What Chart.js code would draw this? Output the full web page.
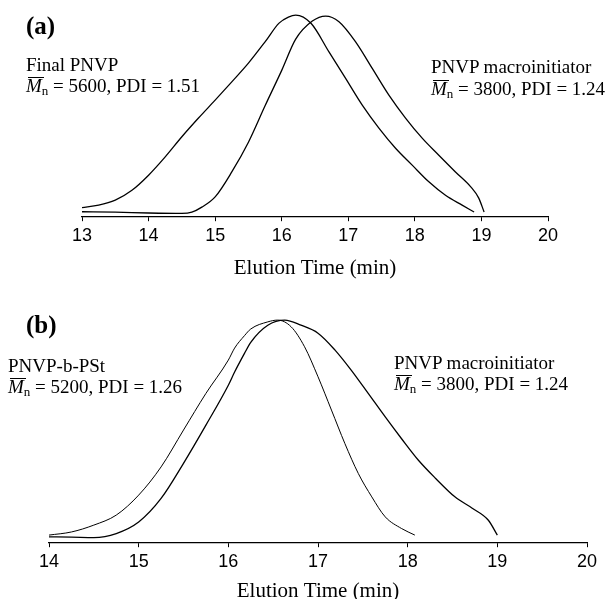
<!DOCTYPE html>
<html>
<head>
<meta charset="utf-8">
<script src="https://cdn.jsdelivr.net/npm/chart.js@4.4.0/dist/chart.umd.min.js"></script>
<style>
body { margin: 0; background: #fff; width: 610px; height: 599px; overflow: hidden; position: relative; font-family: "Liberation Serif", "Times New Roman", serif; color: #000; }
.panel { position: absolute; left: 0; }
.lbl { position: absolute; font-size: 19px; line-height: 19px; white-space: nowrap; }
.tag { position: absolute; font-size: 25px; line-height: 25px; font-weight: bold; }
.m { font-style: italic; position: relative; }
.m::before { content: ''; position: absolute; left: 2px; right: -2px; top: 2px; border-top: 1.3px solid #000; }
.lbl sub { font-size: 13px; line-height: 0; vertical-align: -3px; }
</style>
</head>
<body>
<div class="panel" style="top:0"><canvas id="chartA" width="610" height="290"></canvas></div>
<div class="panel" style="top:300px"><canvas id="chartB" width="610" height="310"></canvas></div>

<div class="tag" style="left:26px;top:13px">(a)</div>
<div class="lbl" style="left:26px;top:55px">Final PNVP</div>
<div class="lbl" style="left:26px;top:76px"><span class="m">M</span><sub>n</sub> = 5600, PDI = 1.51</div>
<div class="lbl" style="left:431px;top:57px">PNVP macroinitiator</div>
<div class="lbl" style="left:431px;top:79px"><span class="m">M</span><sub>n</sub> = 3800, PDI = 1.24</div>

<div class="tag" style="left:26px;top:312px">(b)</div>
<div class="lbl" style="left:8px;top:356px">PNVP-b-PSt</div>
<div class="lbl" style="left:8px;top:377px"><span class="m">M</span><sub>n</sub> = 5200, PDI = 1.26</div>
<div class="lbl" style="left:394px;top:353px">PNVP macroinitiator</div>
<div class="lbl" style="left:394px;top:374px"><span class="m">M</span><sub>n</sub> = 3800, PDI = 1.24</div>

<script>
// panel (a): final PNVP vs macroinitiator, normalised RI signal
const timeFinalA = [13.0, 13.25, 13.5, 13.75, 14.0, 14.25, 14.5, 14.75, 15.0, 15.25, 15.5, 15.75, 15.96, 16.1, 16.21, 16.44, 16.71, 16.96, 17.21, 17.46, 17.71, 17.96, 18.21, 18.46, 18.71, 18.89]
const signalFinalA = [0.043, 0.055, 0.080, 0.129, 0.204, 0.295, 0.395, 0.488, 0.577, 0.668, 0.761, 0.867, 0.96, 0.99, 1.0, 0.959, 0.817, 0.685, 0.552, 0.438, 0.338, 0.254, 0.171, 0.104, 0.055, 0.021]

const timeMacroA = [13.0, 13.5, 14.0, 14.5, 14.65, 14.8, 15.0, 15.25, 15.5, 15.75, 16.0, 16.21, 16.46, 16.66, 16.86, 17.11, 17.36, 17.61, 17.86, 18.11, 18.36, 18.61, 18.84, 18.96, 19.04]
const signalMacroA = [0.022, 0.020, 0.016, 0.014, 0.020, 0.045, 0.096, 0.220, 0.368, 0.549, 0.725, 0.88, 0.97, 0.995, 0.967, 0.867, 0.735, 0.602, 0.488, 0.388, 0.303, 0.220, 0.146, 0.090, 0.021]

// panel (b): PNVP-b-PSt vs macroinitiator
const timeBlockB = [14.0, 14.25, 14.5, 14.75, 15.0, 15.25, 15.5, 15.75, 16.0, 16.07, 16.18, 16.25, 16.44, 16.55, 16.7, 16.85, 17.0, 17.15, 17.3, 17.45, 17.6, 17.75, 17.93, 18.08]
const signalBlockB = [0.032, 0.046, 0.077, 0.122, 0.212, 0.339, 0.505, 0.670, 0.820, 0.874, 0.930, 0.960, 0.992, 1.0, 0.970, 0.880, 0.745, 0.595, 0.444, 0.309, 0.204, 0.114, 0.062, 0.032]

const timeMacroB = [14.0, 14.25, 14.5, 14.75, 15.0, 15.25, 15.5, 15.75, 16.0, 16.07, 16.18, 16.25, 16.44, 16.63, 16.81, 17.0, 17.19, 17.37, 17.56, 17.75, 17.93, 18.12, 18.31, 18.53, 18.72, 18.9, 19.0]
const signalMacroB = [0.024, 0.023, 0.021, 0.039, 0.091, 0.197, 0.355, 0.527, 0.707, 0.766, 0.850, 0.900, 0.977, 1.0, 0.977, 0.941, 0.865, 0.775, 0.670, 0.564, 0.467, 0.369, 0.288, 0.203, 0.153, 0.099, 0.032]

const ticksA = [13, 14, 15, 16, 17, 18, 19, 20]
const ticksB = [14, 15, 16, 17, 18, 19, 20]

const toPoints = (xs, ys) => xs.map((x, i) => ({ x: x, y: ys[i] }))

const lineSet = (xs, ys, width) => ({
    data: toPoints(xs, ys),
    borderColor: '#000',
    borderWidth: width,
    pointRadius: 0,
    fill: false,
    cubicInterpolationMode: 'monotone'
})

const makeChart = (id, datasets, ticks, padding, titleGap) => {
    new Chart(document.getElementById(id), {
        type: 'line',
        data: { datasets: datasets },
        options: {
            responsive: false,
            animation: false,
            layout: { padding: padding },
            plugins: { legend: { display: false }, tooltip: { enabled: false } },
            scales: {
                x: {
                    type: 'linear',
                    min: ticks[0],
                    max: ticks[ticks.length - 1],
                    afterBuildTicks: (axis) => { axis.ticks = ticks.map(v => ({ value: v })) },
                    grid: { drawOnChartArea: false, drawTicks: true, tickLength: 5, color: '#000', tickWidth: 1 },
                    border: { display: true, color: '#000', width: 1.2 },
                    ticks: { color: '#000', padding: 4, font: { family: 'Liberation Sans', size: 18 } },
                    title: {
                        display: true,
                        text: 'Elution Time (min)',
                        color: '#000',
                        font: { family: 'Liberation Serif', size: 21 },
                        padding: { top: titleGap, bottom: 0 }
                    }
                },
                y: { display: false, min: 0, max: 1.05 }
            }
        }
    })
}

makeChart('chartA', [
    lineSet(timeFinalA, signalFinalA, 1.3),
    lineSet(timeMacroA, signalMacroA, 1.3)
], ticksA, { left: 82, right: 62, top: 5, bottom: 9 }, 5)

makeChart('chartB', [
    lineSet(timeBlockB, signalBlockB, 1.0),
    lineSet(timeMacroB, signalMacroB, 1.3)
], ticksB, { left: 49, right: 23, top: 9, bottom: 6 }, 2)
</script>
</body>
</html>
